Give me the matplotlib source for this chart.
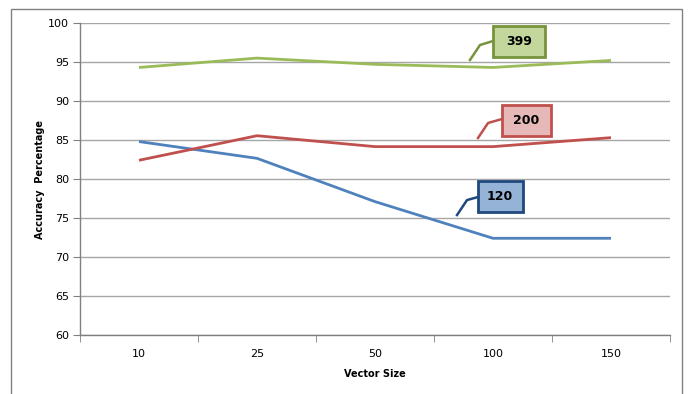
import matplotlib
matplotlib.use("Agg")
import matplotlib.pyplot as plt
from matplotlib.patches import Rectangle

vector_sizes = ["10", "25", "50", "100", "150"]
acc_120 = [84.8, 82.65, 77.1, 72.4, 72.4]
acc_200 = [82.4, 85.55, 84.15, 84.15, 85.3]
acc_399 = [94.3, 95.5, 94.7, 94.3, 95.2]
series_names = ["120", "200", "399"]

line_colors = ["#4F81BD", "#C0504D", "#9BBB59"]
box_fill = ["#95B3D7", "#E6B9B8", "#C3D69B"]
box_edge = ["#1F497D", "#C0504D", "#77933C"]

fig = plt.figure(figsize=(6.89, 3.94), dpi=100)
fig.patch.set_facecolor("white")
ax = fig.add_axes([80 / 689, 1 - 335 / 394, 590 / 689, 312 / 394])

x = list(range(len(vector_sizes)))
for vals, c in zip([acc_120, acc_200, acc_399], line_colors):
    ax.plot(x, vals, color=c, lw=2.0, solid_capstyle="butt", zorder=3)

ax.set_xlim(-0.5, len(vector_sizes) - 0.5)
ax.set_ylim(60, 100)
ax.set_yticks(range(60, 101, 5))
ax.set_xticks(x)
ax.set_xticklabels(vector_sizes)
ax.set_xticks([i - 0.5 for i in range(len(vector_sizes) + 1)], minor=True)
ax.tick_params(axis="x", which="major", length=0, pad=10, labelsize=8, colors="#000000")
ax.tick_params(axis="x", which="minor", length=5, color="#808080", direction="out")
ax.tick_params(axis="y", length=5, color="#808080", labelsize=8, pad=3)
ax.yaxis.grid(True, color="#A6A6A6", lw=1.0, zorder=0)
ax.set_axisbelow(True)
for s in ["top", "right"]:
    ax.spines[s].set_visible(False)
for s in ["left", "bottom"]:
    ax.spines[s].set_color("#808080")
    ax.spines[s].set_linewidth(1.0)

ax.set_xlabel("Vector Size", fontsize=7, fontweight="bold", labelpad=7)
ax.set_ylabel("Accuracy  Percentage", fontsize=7, fontweight="bold", labelpad=2)

# callout labels: (box centre, box width in px, leader path)
px_per_x = 118.0
px_per_y = 7.8
callouts = [
    ((3.06, 77.76), 45, [(2.695, 75.38), (2.78, 77.3), (2.873, 77.69)]),
    ((3.284, 87.5), 49, [(2.873, 85.26), (2.958, 87.18), (3.076, 87.69)]),
    ((3.22, 97.63), 52, [(2.805, 95.26), (2.89, 97.18), (3.0, 97.69)]),
]
for (name, (center, wpx, leader), fc, ec) in zip(series_names, callouts, box_fill, box_edge):
    lx, ly = zip(*leader)
    ax.plot(lx, ly, color=ec, lw=1.8, zorder=4, clip_on=False)
    w = wpx / px_per_x
    h = 31 / px_per_y
    ax.add_patch(Rectangle((center[0] - w / 2, center[1] - h / 2), w, h,
                           facecolor=fc, edgecolor=ec, lw=2.0, zorder=5, clip_on=False))
    ax.text(center[0], center[1], name, ha="center", va="center",
            fontsize=9, fontweight="bold", color="black", zorder=6)

# chart area border
fig.add_artist(Rectangle((11 / 689, -0.05), (682 - 11) / 689, 1.05 - 9 / 394,
                         transform=fig.transFigure, fill=False,
                         edgecolor="#808080", lw=1.0))

fig.savefig("out.png", dpi=100)
